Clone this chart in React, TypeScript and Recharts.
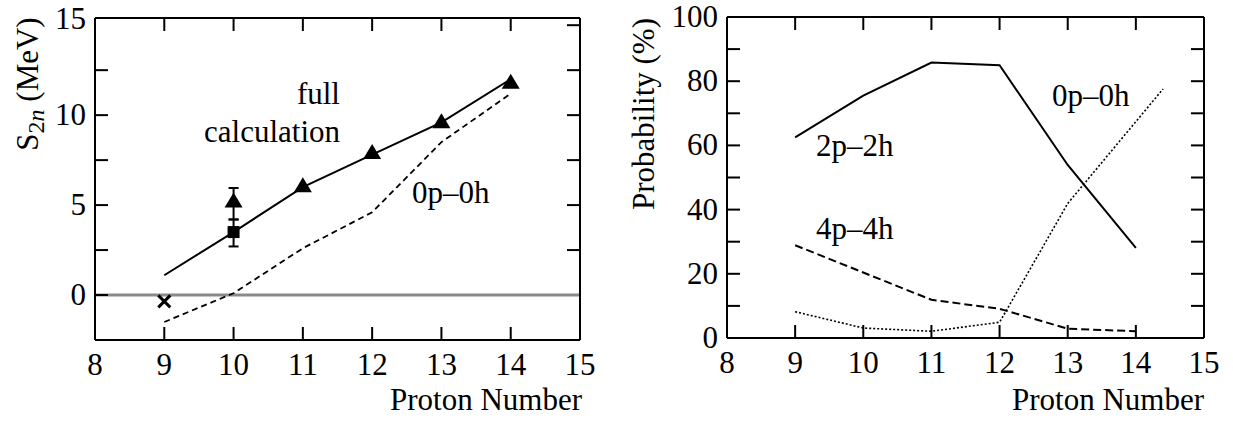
import { ComposedChart, Line, Scatter, XAxis, YAxis, ReferenceLine, ErrorBar } from 'recharts';

// left panel: two-neutron separation energy
const protons = [9, 10, 11, 12, 13, 14];
const fullCalc = [1.1, 3.5, 6.0, 7.8, 9.6, 12.0];
const onlyZero = [-1.5, 0.1, 2.6, 4.6, 8.5, 11.2];
const triX = [11, 12, 13, 14];
const triY = [6.05, 7.9, 9.6, 11.8];
const expTri = { x: 10, y: 5.2, err: [1.0, 0.75] };
const expSquare = { x: 10, y: 3.5, err: [0.8, 0.7] };
const crossPoint = { x: 9, y: -0.35 };

// right panel: configuration probabilities
const p2h2 = [62.5, 75.5, 85.8, 85.0, 53.9, 28.1];
const p4h4 = [28.9, 20.4, 11.9, 9.1, 2.9, 2.1];
const p0h0X = [9, 10, 11, 12, 13, 14.4];
const p0h0 = [8.2, 3.1, 2.1, 4.9, 41.9, 77.6];

const xTicks = [8, 9, 10, 11, 12, 13, 14, 15];
const innerXTicks = [9, 10, 11, 12, 13, 14];
const leftYTicks = [-2.5, 0, 2.5, 5, 7.5, 10, 12.5, 15];
const rightYTicks = [0, 10, 20, 30, 40, 50, 60, 70, 80, 90, 100];

const FONT = '"Liberation Serif", "Times New Roman", serif';
const FS = 31;
const TICK = 13;

const fullData = protons.map((x, i) => ({ x, y: fullCalc[i] }));
const zeroData = protons.map((x, i) => ({ x, y: onlyZero[i] }));
const triData = triX.map((x, i) => ({ x, y: triY[i] }));
const data2p = protons.map((x, i) => ({ x, y: p2h2[i] }));
const data4p = protons.map((x, i) => ({ x, y: p4h4[i] }));
const data0p = p0h0X.map((x, i) => ({ x, y: p0h0[i] }));

const BottomTick = ({ x, y, payload }: any) => (
    <g>
        {payload.value > 8 && payload.value < 15 && (
            <line x1={x} x2={x} y1={y} y2={y - TICK} stroke="#000" strokeWidth={2} />
        )}
        <text x={x} y={y + 35} textAnchor="middle" fontFamily={FONT} fontSize={FS} fill="#000">{payload.value}</text>
    </g>
);

const TopTick = ({ x, y }: any) => (
    <line x1={x} x2={x} y1={y} y2={y + TICK} stroke="#000" strokeWidth={2} />
);

// left axis: inward tick marks, labels only on the major values
const makeLeftTick = (every: number, top: number, lift: number) => ({ x, y, payload }: any) => {
    const v = payload.value;
    const isTop = v === top;
    return (
        <g>
            {!isTop && v !== 0 && <line x1={x} x2={x + TICK} y1={y} y2={y} stroke="#000" strokeWidth={2} />}
            {v === 0 && every === 5 && <line x1={x} x2={x + TICK} y1={y} y2={y} stroke="#000" strokeWidth={2} />}
            {v >= 0 && v % every === 0 && (
                <text x={x - 9} y={y + 10 - (isTop ? lift : 0)} textAnchor="end" fontFamily={FONT} fontSize={FS}
                    fill="#000">{v}</text>
            )}
        </g>
    );
};

const makeRightTick = (top: number) => ({ x, y, payload }: any) =>
    payload.value !== top && payload.value !== 0 ? (
        <line x1={x} x2={x - TICK} y1={y} y2={y} stroke="#000" strokeWidth={2} />
    ) : (
        <g />
    );

const Triangle = ({ cx, cy }: any) => (
    <polygon points={`${cx},${cy - 9} ${cx - 9},${cy + 6} ${cx + 9},${cy + 6}`} fill="#000" />
);

const Square = ({ cx, cy }: any) => <rect x={cx - 6} y={cy - 6} width={12} height={12} fill="#000" />;

const Cross = ({ cx, cy }: any) => (
    <g stroke="#000" strokeWidth={3}>
        <line x1={cx - 6} y1={cy - 6} x2={cx + 6} y2={cy + 6} />
        <line x1={cx - 6} y1={cy + 6} x2={cx + 6} y2={cy - 6} />
    </g>
);

const axisCommon = { stroke: '#000', strokeWidth: 2 };

export default function App() {
    return (
        <div style={{ position: 'absolute', left: 0, top: 0, width: 1233, height: 421, background: '#fff' }}>
            <div style={{ position: 'absolute', left: 0, top: 0 }}>
                <ComposedChart width={620} height={421} margin={{ top: 17, right: 39, bottom: 41, left: 0 }}>
                    <XAxis dataKey="x" type="number" domain={[8, 15]} ticks={xTicks} interval={0} height={40}
                        allowDataOverflow axisLine={axisCommon} tickLine={false} tickSize={0} tickMargin={0}
                        tick={(p: any) => <BottomTick {...p} />} />
                    <XAxis xAxisId="top" orientation="top" dataKey="x" type="number" domain={[8, 15]} ticks={innerXTicks}
                        interval={0} height={1} allowDataOverflow axisLine={axisCommon} tickLine={false} tickSize={0}
                        tickMargin={0} tick={(p: any) => <TopTick {...p} />} />
                    <YAxis type="number" domain={[-2.5, 15.4]} ticks={leftYTicks} interval={0} width={95} allowDataOverflow
                        axisLine={axisCommon} tickLine={false} tickSize={0} tickMargin={0}
                        tick={makeLeftTick(5, 15, 6)} />
                    <YAxis yAxisId="right" orientation="right" type="number" domain={[-2.5, 15.4]} ticks={leftYTicks}
                        interval={0} width={1} allowDataOverflow axisLine={axisCommon} tickLine={false} tickSize={0}
                        tickMargin={0} tick={makeRightTick(99)} />
                    <ReferenceLine y={0} stroke="#8a8a8a" strokeWidth={3} />
                    <Line data={zeroData} dataKey="y" stroke="#000" strokeWidth={1.8} strokeDasharray="6 4" dot={false}
                        isAnimationActive={false} />
                    <Line data={fullData} dataKey="y" stroke="#000" strokeWidth={2} dot={false} isAnimationActive={false} />
                    <Scatter data={triData} dataKey="y" shape={(p: any) => <Triangle {...p} />} isAnimationActive={false} />
                    <Scatter data={[expTri]} dataKey="y" shape={(p: any) => <Triangle {...p} />} isAnimationActive={false}>
                        <ErrorBar dataKey="err" direction="y" width={5} stroke="#000" strokeWidth={2} />
                    </Scatter>
                    <Scatter data={[expSquare]} dataKey="y" shape={(p: any) => <Square {...p} />} isAnimationActive={false}>
                        <ErrorBar dataKey="err" direction="y" width={5} stroke="#000" strokeWidth={2} />
                    </Scatter>
                    <Scatter data={[crossPoint]} dataKey="y" shape={(p: any) => <Cross {...p} />} isAnimationActive={false} />
                </ComposedChart>
            </div>
            <div style={{ position: 'absolute', left: 620, top: 0 }}>
                <ComposedChart width={613} height={421} margin={{ top: 16, right: 28, bottom: 43, left: 0 }}>
                    <XAxis dataKey="x" type="number" domain={[8, 15]} ticks={xTicks} interval={0} height={40}
                        allowDataOverflow axisLine={axisCommon} tickLine={false} tickSize={0} tickMargin={0}
                        tick={(p: any) => <BottomTick {...p} />} />
                    <XAxis xAxisId="top" orientation="top" dataKey="x" type="number" domain={[8, 15]} ticks={innerXTicks}
                        interval={0} height={1} allowDataOverflow axisLine={axisCommon} tickLine={false} tickSize={0}
                        tickMargin={0} tick={(p: any) => <TopTick {...p} />} />
                    <YAxis type="number" domain={[0, 100]} ticks={rightYTicks} interval={0} width={107} allowDataOverflow
                        axisLine={axisCommon} tickLine={false} tickSize={0} tickMargin={0}
                        tick={makeLeftTick(20, 100, 0)} />
                    <YAxis yAxisId="right" orientation="right" type="number" domain={[0, 100]} ticks={rightYTicks}
                        interval={0} width={1} allowDataOverflow axisLine={axisCommon} tickLine={false} tickSize={0}
                        tickMargin={0} tick={makeRightTick(100)} />
                    <Line data={data2p} dataKey="y" stroke="#000" strokeWidth={2} dot={false} isAnimationActive={false} />
                    <Line data={data4p} dataKey="y" stroke="#000" strokeWidth={2} strokeDasharray="8 4" dot={false}
                        isAnimationActive={false} />
                    <Line data={data0p} dataKey="y" stroke="#000" strokeWidth={1.6} strokeDasharray="2 2" dot={false}
                        isAnimationActive={false} />
                </ComposedChart>
            </div>
            <svg width={1233} height={421} style={{ position: 'absolute', left: 0, top: 0, pointerEvents: 'none' }}
                fontFamily={FONT} fontSize={FS} fill="#000">
                <text x={340} y={104} textAnchor="end">full</text>
                <text x={340} y={142} textAnchor="end">calculation</text>
                <text x={412} y={203}>0p–0h</text>
                <text x={582} y={410} textAnchor="end">Proton Number</text>
                <text x={38} y={84} textAnchor="middle" transform="rotate(-90 38 84)">
                    S<tspan dy={6} fontSize={24}>2</tspan><tspan fontSize={24} fontStyle="italic">n</tspan>
                    <tspan dy={-6}> (MeV)</tspan>
                </text>
                <text x={1052} y={106}>0p–0h</text>
                <text x={816} y={156}>2p–2h</text>
                <text x={816} y={239}>4p–4h</text>
                <text x={1204} y={410} textAnchor="end">Proton Number</text>
                <text x={654} y={114} textAnchor="middle" transform="rotate(-90 654 114)">Probability (%)</text>
            </svg>
        </div>
    );
}
